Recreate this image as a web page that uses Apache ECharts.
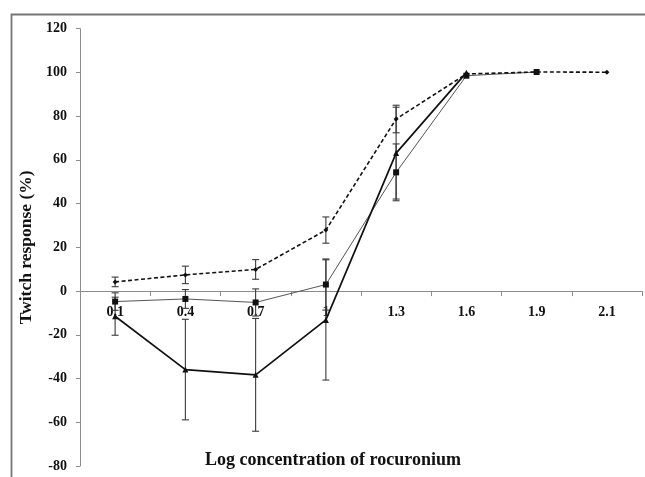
<!DOCTYPE html>
<html><head><meta charset="utf-8">
<script src="https://cdn.jsdelivr.net/npm/echarts@6/dist/echarts.min.js"></script>
<style>html,body{margin:0;padding:0;background:#fff}#c{width:645px;height:477px}</style>
</head><body><div id="c"></div>
<script>
const categories = ['0.1','0.4','0.7','1','1.3','1.6','1.9','2.1'];
const dashedMean = [4.2, 7.4, 9.9, 27.9, 78.7, 99.3, 100.2, 100.1];
const dashedErr  = [2.2, 4.0, 4.5, 6.0, 6.3, 0, 0, 0];
const squareMean = [-4.8, -3.6, -5.2, 3.0, 54.3, 98.5, 100.2, null];
const squareErr  = [4.0, 4.3, 6.2, 11.7, 13.0, 0, 0, null];
const triMean    = [-11.5, -35.9, -38.3, -13.2, 63.1, 99.9, null, null];
const triErr     = [8.7, 23.0, 25.8, 27.5, 21.0, 0, null, null];
const yTicks = {min: -80, max: 120, interval: 20};

const serif = 'Liberation Serif';
const H = 477, gridTop = 28.7, gridBottom = 11;
const gridH = H - gridTop - gridBottom;
// shift the x axis (line, ticks, labels) up to the y = 0 position
const zeroOffset = -gridH * (0 - yTicks.min) / (yTicks.max - yTicks.min);

function errData(mean, err) {
  const out = [];
  mean.forEach((m, i) => { if (m != null && err[i]) out.push([i, m - err[i], m + err[i]]); });
  return out;
}
function errSeries(mean, err) {
  return {
    type: 'custom', z: 1,
    renderItem: function (params, api) {
      const x = api.value(0);
      const lo = api.coord([x, api.value(1)]);
      const hi = api.coord([x, api.value(2)]);
      const w = 3.5;
      const st = {stroke: '#3a3a3a', lineWidth: 1.1};
      return {type: 'group', children: [
        {type: 'line', shape: {x1: lo[0], y1: lo[1], x2: hi[0], y2: hi[1]}, style: st},
        {type: 'line', shape: {x1: lo[0]-w, y1: lo[1], x2: lo[0]+w, y2: lo[1]}, style: st},
        {type: 'line', shape: {x1: hi[0]-w, y1: hi[1], x2: hi[0]+w, y2: hi[1]}, style: st}
      ]};
    },
    data: errData(mean, err),
    silent: true
  };
}

const chart = echarts.init(document.getElementById('c'), null, {renderer: 'canvas'});
chart.setOption({
  animation: false,
  backgroundColor: '#fff',
  grid: {left: 80, right: 3, top: gridTop, bottom: gridBottom, containLabel: false, outerBoundsMode: 'none'},
  title: {
    text: 'Log concentration of rocuronium',
    left: 328, top: 446, textAlign: 'center',
    textStyle: {fontFamily: serif, fontWeight: 'bold', fontSize: 18, color: '#111'}
  },
  graphic: [{
    type: 'rect', left: 9, top: 12, shape: {width: 700, height: 520},
    style: {fill: 'none', stroke: '#767676', lineWidth: 1.8}, silent: true
  }],
  xAxis: {
    type: 'category', data: categories, boundaryGap: true,
    position: 'bottom', offset: zeroOffset,
    axisLine: {onZero: false, lineStyle: {color: '#8c8c8c', width: 1}},
    axisTick: {show: true, inside: false, length: 5, lineStyle: {color: '#8c8c8c'}},
    axisLabel: {margin: 14, fontFamily: serif, fontWeight: 'bold', fontSize: 14, color: '#111'},
    splitLine: {show: false}
  },
  yAxis: {
    type: 'value', min: yTicks.min, max: yTicks.max, interval: yTicks.interval,
    name: 'Twitch response (%)', nameLocation: 'middle', nameGap: 36, nameRotate: 90,
    nameTextStyle: {fontFamily: serif, fontWeight: 'bold', fontSize: 17.5, color: '#111'},
    axisLine: {show: true, lineStyle: {color: '#8c8c8c', width: 1}},
    axisTick: {show: true, length: 4, lineStyle: {color: '#8c8c8c'}},
    axisLabel: {margin: 13, fontFamily: serif, fontWeight: 'bold', fontSize: 14, color: '#111'},
    splitLine: {show: false}
  },
  series: [
    errSeries(dashedMean, dashedErr),
    errSeries(squareMean, squareErr),
    errSeries(triMean, triErr),
    {
      type: 'line', data: squareMean, z: 3,
      symbol: 'rect', symbolSize: 6,
      lineStyle: {color: '#555', width: 1},
      itemStyle: {color: '#111'}
    },
    {
      type: 'line', data: triMean, z: 4,
      symbol: 'triangle', symbolSize: 6,
      lineStyle: {color: '#111', width: 1.7},
      itemStyle: {color: '#111'}
    },
    {
      type: 'line', data: dashedMean, z: 5,
      symbol: 'diamond', symbolSize: 5,
      lineStyle: {color: '#111', width: 1.6, type: [4, 2.5]},
      itemStyle: {color: '#111'}
    }
  ]
});
</script></body></html>
